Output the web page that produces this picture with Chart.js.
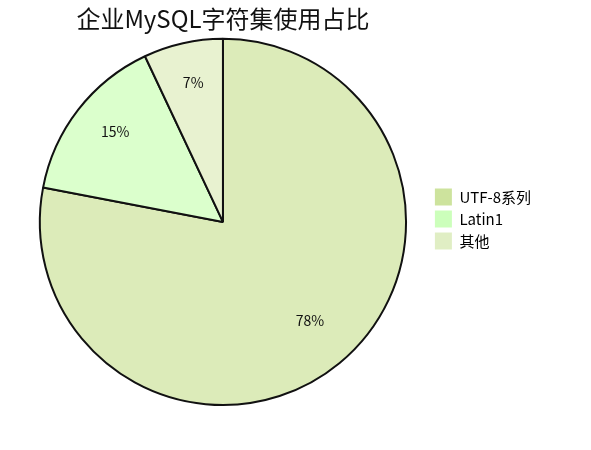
<!DOCTYPE html>
<html lang="zh">
<head>
  <meta charset="UTF-8" />
  <title>企业MySQL字符集使用占比</title>
  <script src="https://cdn.jsdelivr.net/npm/chart.js@4"></script>
  <style>
    html, body { margin: 0; padding: 0; background: #fff; }
  </style>
</head>
<body>
  <canvas id="charset-pie" width="591" height="450"></canvas>

<script>
  // data
  const categories = ['UTF-8系列', 'Latin1', '其他'];
  const shares = [78, 15, 7];
  const sliceColors = ['#dcebb9', '#dbffcc', '#e8f2d0'];
  const legendColors = ['#cde39d', '#ccffbb', '#e0eec4'];

  const fontFamily = '"Noto Sans CJK SC", "Noto Sans", sans-serif';
  Chart.defaults.font.family = fontFamily;

  // percentage text inside each slice
  const sliceLabels = {
    id: 'sliceLabels',
    afterDatasetsDraw(chart) {
      const ctx = chart.ctx;
      const meta = chart.getDatasetMeta(0);
      const size = 14;
      ctx.save();
      ctx.font = size + 'px ' + fontFamily;
      ctx.fillStyle = '#111';
      ctx.textAlign = 'center';
      ctx.textBaseline = 'alphabetic';
      meta.data.forEach((arc, i) => {
        const mid = (arc.startAngle + arc.endAngle) / 2;
        const r = arc.outerRadius * 0.745;
        // text sits a little above the anchor point
        ctx.fillText(shares[i] + '%', arc.x + Math.cos(mid) * r, arc.y + Math.sin(mid) * r + size * 0.36 - 6);
      });
      ctx.restore();
    }
  };

  // nudge the legend block down a bit, it sits a little lower than centre
  const legendNudge = {
    id: 'legendNudge',
    afterLayout(chart) {
      chart.legend.top += 16;
      chart.legend.bottom += 16;
    }
  };

  const pieChart = new Chart(
    document.getElementById('charset-pie').getContext('2d'), {
      type: 'pie',
      data: {
        labels: categories,
        datasets: [{
          data: shares,
          backgroundColor: sliceColors,
          borderColor: '#111',
          borderWidth: 2
        }]
      },
      options: {
        responsive: false,
        animation: false,
        layout: {
          padding: { left: 16, right: 50, top: 0, bottom: 44 }
        },
        plugins: {
          title: {
            display: true,
            text: '企业MySQL字符集使用占比',
            color: '#111',
            fullSize: false,
            font: { size: 24, weight: 'normal' },
            padding: { top: 4, bottom: 5 }
          },
          legend: {
            position: 'right',
            labels: {
              color: '#111',
              boxWidth: 17,
              boxHeight: 17,
              padding: 5,
              font: { size: 15 },
              generateLabels(chart) {
                return categories.map((name, i) => ({
                  text: name,
                  fillStyle: legendColors[i],
                  strokeStyle: legendColors[i],
                  lineWidth: 0,
                  index: i
                }));
              }
            }
          },
          tooltip: { enabled: false }
        }
      },
      plugins: [sliceLabels, legendNudge]
    });
</script>
</body>
</html>
